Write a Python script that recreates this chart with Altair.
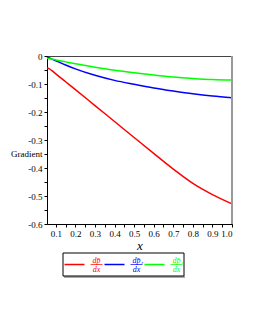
import altair as alt
import pandas as pd

x_vals = [0.055, 0.065, 0.08, 0.1, 0.15, 0.2, 0.3, 0.4, 0.5, 0.6, 0.7, 0.8, 0.9, 1.0]
red_vals = [-0.043, -0.045, -0.052, -0.064, -0.092, -0.120, -0.177, -0.234, -0.291, -0.348, -0.404, -0.455, -0.495, -0.528]
blue_vals = [-0.002, -0.006, -0.011, -0.017, -0.032, -0.046, -0.069, -0.087, -0.101, -0.114, -0.125, -0.135, -0.143, -0.149]
green_vals = [-0.008, -0.009, -0.011, -0.014, -0.021, -0.028, -0.040, -0.051, -0.060, -0.068, -0.075, -0.080, -0.084, -0.086]

series_names = ["p", "p_r", "p_z"]
series_subs = ["", "r", "z"]
series_colors = ["#ff0000", "#0000ff", "#00ff00"]

rows = []
for name, vals in zip(series_names, [red_vals, blue_vals, green_vals]):
    for x, y in zip(x_vals, vals):
        rows.append({"x": x, "y": y, "series": name})
df = pd.DataFrame(rows)

W, H = 185, 168
FONT = "Liberation Serif"

x_ticks = [round(0.1 + 0.05 * i, 2) for i in range(19)]
y_ticks = [round(-0.6 + 0.05 * i, 2) for i in range(13)]

lines = alt.Chart(df).mark_line(strokeWidth=1.5, interpolate="monotone").encode(
    x=alt.X("x:Q", scale=alt.Scale(domain=[0.055, 1.0], nice=False, zero=False),
            axis=alt.Axis(values=x_ticks, title="x", titleFontStyle="italic",
                          titleFontSize=13, titleFontWeight="normal",
                          titleY=21, titleBaseline="middle",
                          labelExpr="abs(round(datum.value*10) - datum.value*10) < 0.01 ? format(datum.value, '.1f') : ''")),
    y=alt.Y("y:Q", scale=alt.Scale(domain=[-0.6, 0], nice=False),
            axis=alt.Axis(values=y_ticks, title="Gradient", titleAngle=0,
                          titleAlign="right", titleBaseline="middle",
                          titleX=-5, titleY=97, titleFontWeight="normal",
                          titleFontSize=9,
                          labelExpr="datum.value == 0 ? '0' : (abs(round(datum.value*10) - datum.value*10) < 0.01 ? replace(format(datum.value, '.1f'), '\u2212', '-') : '')")),
    color=alt.Color("series:N", scale=alt.Scale(domain=series_names, range=series_colors), legend=None),
    detail="series:N",
)

one = pd.DataFrame({"a": [0]})
layers = [lines]

# right frame edge (gray)
layers.append(alt.Chart(one).mark_rule(color="#999999", strokeWidth=2).encode(
    x=alt.value(W), y=alt.value(0), y2=alt.value(H)))

# legend box
LX0, LX1, LY0, LY1 = 16, 137, 197, 220
layers.append(alt.Chart(one).mark_rule(color="#aaaaaa", strokeWidth=2).encode(
    x=alt.value(LX0 + 1), x2=alt.value(LX1 + 1), y=alt.value(LY1 + 1)))
layers.append(alt.Chart(one).mark_rect(fill="white", stroke="black", strokeWidth=1).encode(
    x=alt.value(LX0), x2=alt.value(LX1), y=alt.value(LY0), y2=alt.value(LY1)))

ly = (LY0 + LY1) / 2
for i, (sub, col) in enumerate(zip(series_subs, series_colors)):
    x0 = 17.5 + 40 * i
    layers.append(alt.Chart(one).mark_rule(color=col, strokeWidth=1.5).encode(
        x=alt.value(x0), x2=alt.value(x0 + 20), y=alt.value(ly)))
    cx = x0 + 32
    layers.append(alt.Chart(one).mark_text(text="dp\u0304", color=col, font=FONT, fontStyle="italic",
                                           fontSize=8, baseline="alphabetic", align="center").encode(
        x=alt.value(cx), y=alt.value(ly - 1.5)))
    if sub:
        layers.append(alt.Chart(one).mark_text(text=sub, color=col, font=FONT, fontStyle="italic",
                                               fontSize=5, baseline="alphabetic", align="left").encode(
            x=alt.value(cx + 5), y=alt.value(ly - 1)))
    layers.append(alt.Chart(one).mark_rule(color=col, strokeWidth=0.7).encode(
        x=alt.value(cx - 6), x2=alt.value(cx + 6), y=alt.value(ly)))
    layers.append(alt.Chart(one).mark_text(text="dx", color=col, font=FONT, fontStyle="italic",
                                           fontSize=8, baseline="top", align="center").encode(
        x=alt.value(cx), y=alt.value(ly + 1)))

chart = alt.layer(*layers).properties(
    width=W, height=H, autosize="none",
    padding={"left": 39, "top": 48, "right": 15, "bottom": 90},
).configure_view(stroke="#444444", strokeWidth=1).configure_axis(
    grid=False, domainColor="black", tickColor="black", tickSize=3,
    labelFont=FONT, labelFontSize=9, labelColor="black",
    titleFont=FONT, titleColor="black", labelPadding=2,
)

chart.save("out.html", embed_options={"renderer": "svg", "actions": False})
